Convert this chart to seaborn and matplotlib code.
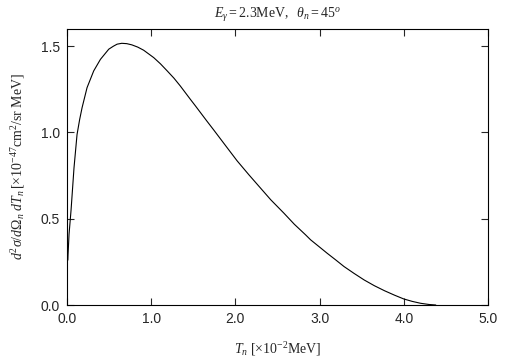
import matplotlib
matplotlib.use("Agg")
import matplotlib.pyplot as plt
import seaborn as sns
import pandas as pd

# Data
T_n = [0.010, 0.012, 0.024, 0.048, 0.083, 0.119, 0.150, 0.179, 0.238, 0.317, 0.397,
       0.496, 0.55, 0.595, 0.65, 0.71, 0.77, 0.84, 0.91, 1.03, 1.11, 1.19, 1.27, 1.345,
       1.464, 1.524, 1.66, 1.742, 1.88, 2.02, 2.16, 2.298, 2.42, 2.575, 2.70, 2.833,
       2.893, 3.012, 3.09, 3.19, 3.29, 3.41, 3.53, 3.65, 3.77, 3.89, 4.00, 4.10, 4.20,
       4.30, 4.38]
cross = [0.26, 0.29, 0.41, 0.55, 0.795, 0.988, 1.075, 1.144, 1.26, 1.357, 1.424,
         1.483, 1.50, 1.512, 1.517, 1.515, 1.508, 1.495, 1.477, 1.434, 1.398, 1.357,
         1.315, 1.27, 1.193, 1.155, 1.067, 1.015, 0.926, 0.836, 0.755, 0.678, 0.61,
         0.533, 0.468, 0.407, 0.378, 0.331, 0.30, 0.262, 0.223, 0.183, 0.145, 0.112,
         0.083, 0.057, 0.035, 0.021, 0.010, 0.003, 0.0]
x_ticks = [0, 1, 2, 3, 4, 5]
x_ticklabels = ["0.0", "1.0", "2.0", "3.0", "4.0", "5.0"]
y_ticks = [0.0, 0.5, 1.0, 1.5]
y_ticklabels = ["0.0", "0.5", "1.0", "1.5"]

sns.set_style("ticks")
plt.rcParams["font.family"] = ["Liberation Sans", "DejaVu Sans"]
plt.rcParams["mathtext.fontset"] = "custom"
plt.rcParams["mathtext.rm"] = "Liberation Serif"
plt.rcParams["mathtext.it"] = "Liberation Serif:italic"
plt.rcParams["mathtext.bf"] = "Liberation Serif:bold"

fig = plt.figure(figsize=(5.05, 3.61), dpi=100)
ax = fig.add_axes([0.1327, 0.1551, 0.8336, 0.7646])

df = pd.DataFrame({"T": T_n, "v": cross})
sns.lineplot(data=df, x="T", y="v", ax=ax, color="black", linewidth=0.8, sort=False)

ax.set_xlim(0, 5)
ax.set_ylim(0, 1.6)
ax.set_xticks(x_ticks)
ax.set_xticklabels(x_ticklabels, fontsize=10)
ax.set_yticks(y_ticks)
ax.set_yticklabels(y_ticklabels, fontsize=10)
ax.tick_params(direction="in", length=5, width=0.8, top=True, right=True, pad=5)
for s in ax.spines.values():
    s.set_visible(True)
    s.set_linewidth(0.8)
    s.set_color("black")

ax.set_xlabel(r"$T_n\ [\times10^{-2}\mathrm{MeV}]$", fontsize=10, labelpad=10)
ax.set_ylabel(r"$d^2\sigma/d\Omega_n\ dT_n\,[\times10^{-47}\mathrm{cm}^2\mathrm{/sr\ MeV}]$",
              fontsize=10, labelpad=10)
ax.set_title(r"$E_\gamma\mathrm{=2.3MeV,}\ \ \theta_n\mathrm{=45}^o$", fontsize=10, pad=8)

fig.savefig("out.png", dpi=100)
